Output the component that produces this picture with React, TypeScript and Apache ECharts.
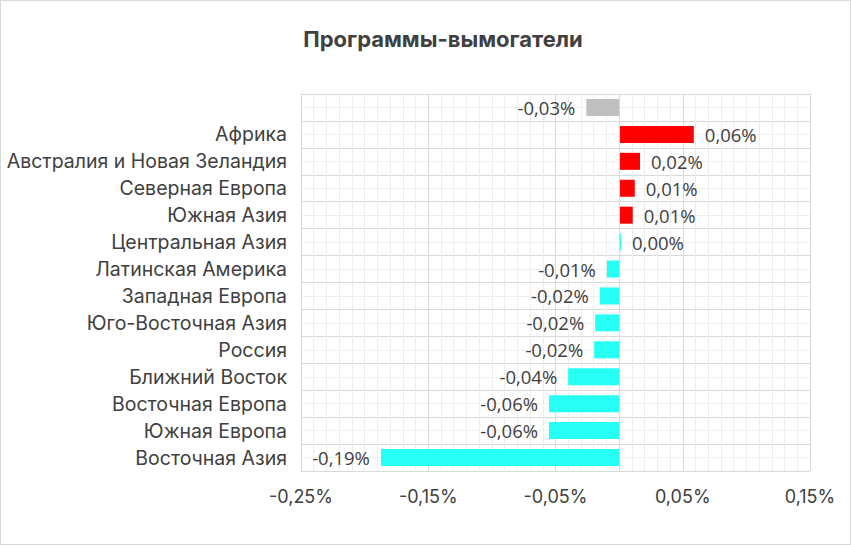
import React, { useEffect, useRef } from "react";
import * as echarts from "echarts";

const TITLE = "Программы-вымогатели";
const categories = [
  "",
  "Африка",
  "Австралия и Новая Зеландия",
  "Северная Европа",
  "Южная Азия",
  "Центральная Азия",
  "Латинская Америка",
  "Западная Европа",
  "Юго-Восточная Азия",
  "Россия",
  "Ближний Восток",
  "Восточная Европа",
  "Южная Европа",
  "Восточная Азия",
];
const values = [
  -0.0258, 0.0587, 0.0164, 0.0123, 0.0107, 0.0015, -0.0096, -0.0152, -0.0188,
  -0.0196, -0.04, -0.0551, -0.0551, -0.1872,
];
const barColors = [
  "#BFBFBF", "#FF0000", "#FF0000", "#FF0000", "#FF0000", "#26FFF4", "#26FFF4",
  "#26FFF4", "#26FFF4", "#26FFF4", "#26FFF4", "#26FFF4", "#26FFF4", "#26FFF4",
];
const xMin = -0.25;
const xMax = 0.15;
const xStep = 0.1;

const fmt = (v: number) => v.toFixed(2).replace(".", ",") + "%";

export default function App() {
  const ref = useRef<HTMLDivElement>(null);
  useEffect(() => {
    document.body.style.margin = "0";
    if (!ref.current) return;
    const chart = echarts.init(ref.current, null, { renderer: "svg" });
    const textColor = "#404040";
    chart.setOption({
      animation: false,
      backgroundColor: "#ffffff",
      title: {
        text: TITLE,
        left: 437,
        textAlign: "center",
        top: 22,
        textStyle: {
          fontFamily: "Inter",
          fontWeight: "bold",
          fontSize: 22,
          color: textColor,
        },
      },
      grid: { left: 300, right: 40, top: 93, bottom: 73 },
      xAxis: {
        type: "value",
        min: xMin,
        max: xMax,
        interval: xStep,
        axisLine: { show: false },
        axisTick: { show: false },
        axisLabel: {
          formatter: (v: number) => fmt(v),
          fontFamily: "Inter",
          fontSize: 18,
          color: textColor,
          margin: 16,
        },
        splitLine: { show: true, lineStyle: { color: "#d9d9d9", width: 1 } },
        minorTick: { show: false, splitNumber: 10 },
        minorSplitLine: { show: true, lineStyle: { color: "#eeeeee", width: 1 } },
      },
      yAxis: [
        {
          type: "category",
          data: categories,
          inverse: true,
          axisLine: { show: false },
          axisTick: { show: false },
          splitLine: { show: false },
          axisLabel: {
            fontFamily: "Inter",
            fontSize: 19.5,
            color: textColor,
            margin: 14,
          },
        },
        {
          type: "value",
          min: 0,
          max: categories.length,
          interval: 1,
          position: "left",
          axisLine: { show: false },
          axisTick: { show: false },
          axisLabel: { show: false },
          splitLine: { show: true, lineStyle: { color: "#d9d9d9", width: 1 } },
          minorTick: { show: false, splitNumber: 2 },
          minorSplitLine: { show: true, lineStyle: { color: "#eeeeee", width: 1 } },
        },
      ],
      series: [
        {
          type: "bar",
          yAxisIndex: 0,
          barWidth: 17,
          data: values.map((v, i) => ({
            value: v,
            itemStyle: { color: barColors[i] },
            label: { position: v >= 0 ? "right" : "left" },
          })),
          label: {
            show: true,
            distance: 11,
            formatter: (p: any) => fmt(p.value),
            fontFamily: "Open Sans",
            fontSize: 18.5,
            color: textColor,
          },
          markLine: {
            silent: true,
            symbol: "none",
            label: { show: false },
            lineStyle: { color: "#d9d9d9", type: "solid", width: 1 },
            data: [{ xAxis: 0 }],
          },
        },
      ],
    });
    return () => chart.dispose();
  }, []);
  return (
    <div
      style={{
        width: 851,
        height: 545,
        boxSizing: "border-box",
        border: "1px solid #d9d9d9",
        background: "#fff",
      }}
    >
      <div ref={ref} style={{ width: 849, height: 543 }} />
    </div>
  );
}
